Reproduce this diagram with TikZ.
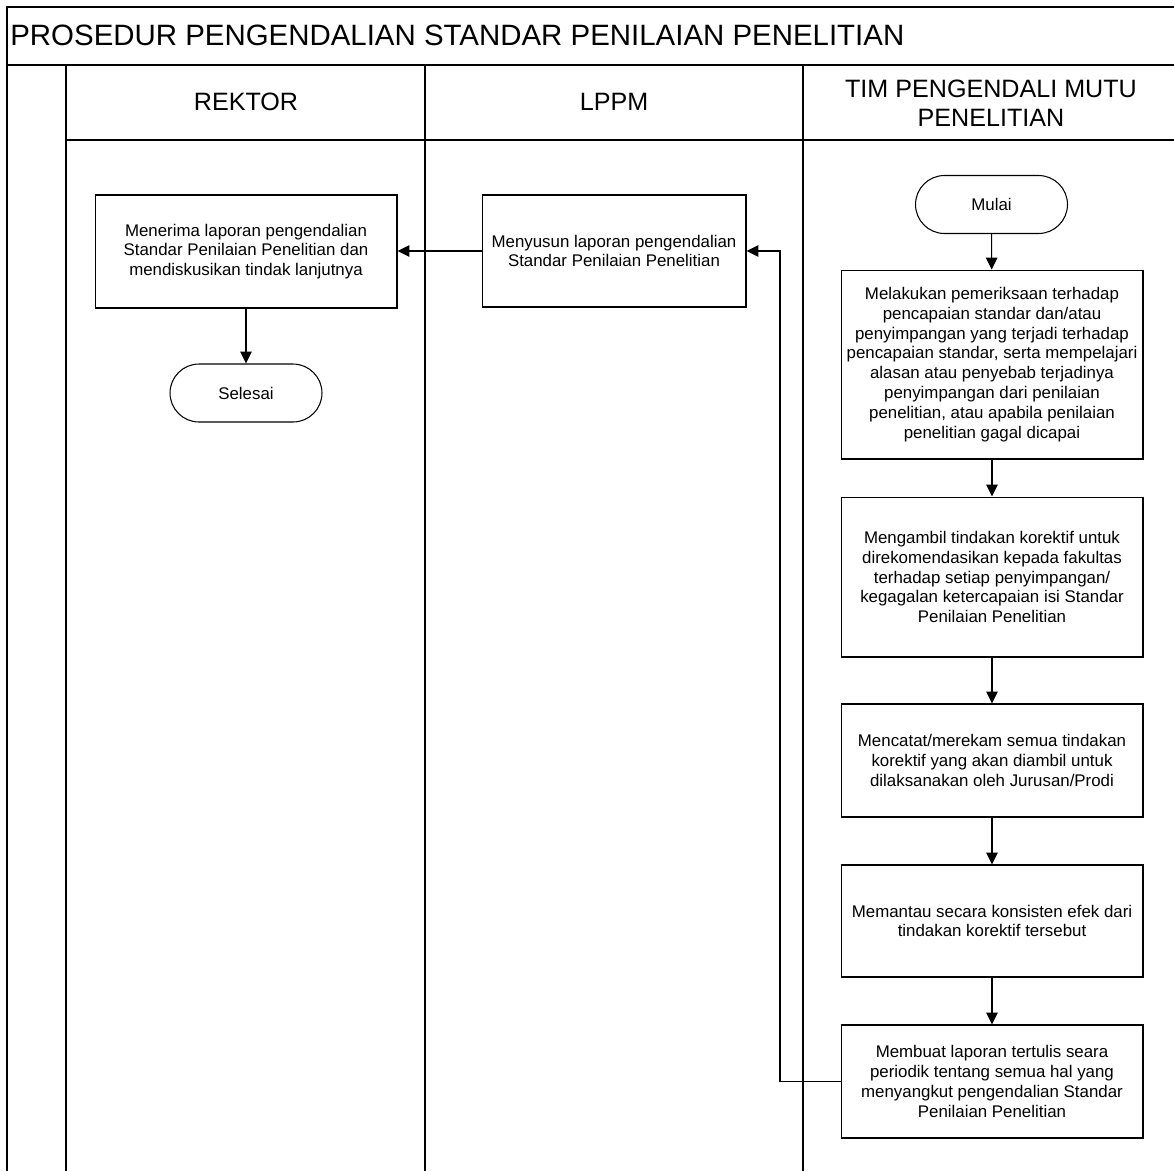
\documentclass[tikz,border=0pt]{standalone}
\usepackage{fontspec}
\setmainfont{Liberation Sans}
\usetikzlibrary{arrows.meta}

\begin{document}
\begin{tikzpicture}[
    x=0.02cm, y=-0.02cm,
    every node/.style={font=\fontsize{9.6}{11.3}\selectfont, align=center},
    >={Triangle[length=6.8pt, width=6.6pt]},
    proc/.style={draw, line width=0.6pt, minimum width=6.04cm, inner sep=0pt},
    term/.style={draw, line width=0.6pt, rounded corners=0.58cm,
        minimum width=3.04cm, minimum height=1.16cm, inner sep=0pt},
    head/.style={font=\fontsize{14.3}{16.6}\selectfont},
    lane/.style={line width=0.9pt},
    flow/.style={->, line width=0.6pt},
]

\useasboundingbox (0,0) rectangle (1174,1171);

% === Frame and title ===
\draw[lane] (1174,7) -- (7,7) -- (7,1171);
\draw[lane] (7,65) -- (1174,65);
\node[anchor=west, inner sep=0pt, font=\fontsize{16.75}{19}\selectfont] (title) at (10,35)
    {PROSEDUR PENGENDALIAN STANDAR PENILAIAN PENELITIAN};

% === Swimlanes ===
\draw[lane] (66,65) -- (66,1171);
\draw[lane] (425,65) -- (425,1171);
\draw[lane] (803,65) -- (803,1171);
\draw[line width=0.6pt] (66,140) -- (1174,140);
\node[head] (rektor) at (246,102) {REKTOR};
\node[head] (lppm) at (614,102) {LPPM};
\node[head] (tim) at (991,103) {TIM PENGENDALI MUTU\\PENELITIAN};

% === Rektor ===
\node[proc, minimum height=2.26cm] (terima) at (246,251.5)
    {Menerima laporan pengendalian\\Standar Penilaian Penelitian dan\\mendiskusikan tindak lanjutnya};
\node[term] (selesai) at (246,393) {Selesai};

% === LPPM ===
\node[proc, minimum width=5.28cm, minimum height=2.24cm] (susun) at (614,251)
    {Menyusun laporan pengendalian\\Standar Penilaian Penelitian};

% === Tim pengendali mutu ===
\node[term] (mulai) at (991.5,204.5) {Mulai};
\node[proc, minimum height=3.78cm] (periksa) at (992,364.5)
    {Melakukan pemeriksaan terhadap\\pencapaian standar dan/atau\\penyimpangan yang terjadi terhadap\\pencapaian standar, serta mempelajari\\alasan atau penyebab terjadinya\\penyimpangan dari penilaian\\penelitian, atau apabila penilaian\\penelitian gagal dicapai};
\node[proc, minimum height=3.2cm] (korektif) at (992,577)
    {Mengambil tindakan korektif untuk\\direkomendasikan kepada fakultas\\terhadap setiap penyimpangan/\\kegagalan ketercapaian isi Standar\\Penilaian Penelitian};
\node[proc, minimum height=2.26cm] (catat) at (992,760.5)
    {Mencatat/merekam semua tindakan\\korektif yang akan diambil untuk\\dilaksanakan oleh Jurusan/Prodi};
\node[proc, minimum height=2.24cm] (pantau) at (992,921)
    {Memantau secara konsisten efek dari\\tindakan korektif tersebut};
\node[proc, minimum height=2.26cm] (buat) at (992,1081.5)
    {Membuat laporan tertulis seara\\periodik tentang semua hal yang\\menyangkut pengendalian Standar\\Penilaian Penelitian};

% === Connectors ===
\coordinate (balik) at (780,0);
\draw[flow] (mulai) -- (periksa);
\draw[flow] (periksa) -- (korektif);
\draw[flow] (korektif) -- (catat);
\draw[flow] (catat) -- (pantau);
\draw[flow] (pantau) -- (buat);
\draw[flow] (buat.west) -- (buat.west -| balik) |- (susun.east);
\draw[flow] (susun.west) -- (susun.west -| terima.east);
\draw[flow] (terima) -- (selesai);

\end{tikzpicture}
\end{document}
